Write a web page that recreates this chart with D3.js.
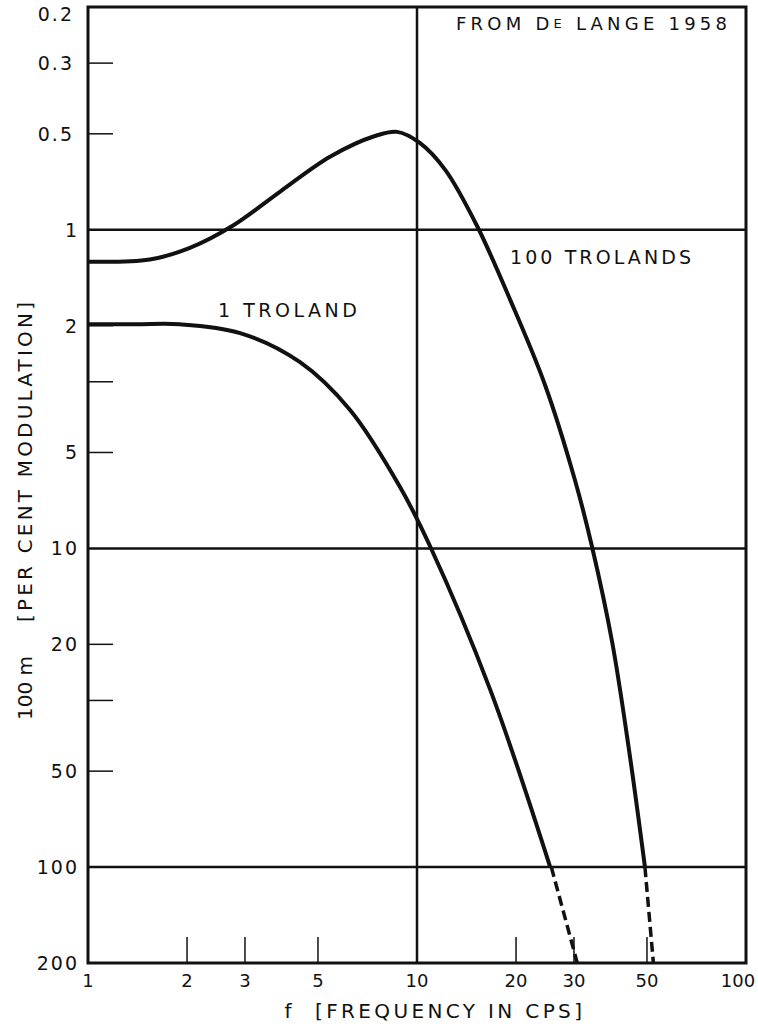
<!DOCTYPE html>
<html lang="en">
  <head>
    <meta charset="UTF-8" />
    <title>De Lange 1958</title>
    <style>
      body { margin: 0; background: #fff; }
      text { font-family: "DejaVu Sans", sans-serif; fill: #111; }
    </style>
  </head>
  <body>
    <svg id="container" width="758" height="1026"></svg>
  </body>
  <script src="https://cdn.jsdelivr.net/npm/d3@7"></script>
  <script>
    // values
    const freq100 = [1, 1.54, 2.04, 2.76, 3.83, 5.44, 7.45, 8.7, 10.2, 12.2, 15.2, 19.2, 24.5, 30.2, 34.0, 39.2, 44.1, 49.3];
    const mod100 = [1.26, 1.24, 1.14, 0.97, 0.76, 0.59, 0.508, 0.493, 0.534, 0.65, 0.97, 1.66, 3.07, 6.1, 9.83, 19.7, 42.9, 100];
    const freq1 = [1, 1.4, 1.9, 2.9, 4.4, 6.26, 8.88, 10.95, 16.7, 25.4];
    const mod1 = [1.98, 1.98, 1.98, 2.11, 2.6, 3.68, 6.42, 9.83, 27.8, 100];
    const dashFreq100 = [49.3, 52.3];
    const dashFreq1 = [25.6, 30.7];
    const dashMod = [100, 200];

    const yTickLabels = [0.2, 0.3, 0.5, 1, 2, 5, 10, 20, 50, 100, 200];
    const yMinorTicks = [0.3, 0.5, 2, 3, 5, 20, 30, 50];
    const xTickLabels = [1, 2, 3, 5, 10, 20, 30, 50, 100];
    const xMinorTicks = [2, 3, 5, 20, 30, 50];
    const xGrid = [10];
    const yGrid = [1, 10, 100];

    const svg = d3.select("#container");
    const x = d3.scaleLog().domain([1, 100]).range([88, 746]);
    const y = d3.scaleLog().domain([0.2, 200]).range([7, 963]);

    // frame
    svg.append("rect")
      .attr("x", x(1)).attr("y", y(0.2))
      .attr("width", x(100) - x(1)).attr("height", y(200) - y(0.2))
      .attr("fill", "none").attr("stroke", "#111").attr("stroke-width", 3);

    // grid lines
    svg.selectAll(".vgrid").data(xGrid).enter().append("line")
      .attr("x1", (d) => x(d)).attr("x2", (d) => x(d))
      .attr("y1", y(0.2)).attr("y2", y(200))
      .attr("stroke", "#111").attr("stroke-width", 2.5);
    svg.selectAll(".hgrid").data(yGrid).enter().append("line")
      .attr("x1", x(1)).attr("x2", x(100))
      .attr("y1", (d) => y(d)).attr("y2", (d) => y(d))
      .attr("stroke", "#111").attr("stroke-width", 2.5);

    // short ticks
    svg.selectAll(".ytick").data(yMinorTicks).enter().append("line")
      .attr("x1", x(1)).attr("x2", x(1) + 25)
      .attr("y1", (d) => y(d)).attr("y2", (d) => y(d))
      .attr("stroke", "#111").attr("stroke-width", 1.5);
    svg.selectAll(".xtick").data(xMinorTicks).enter().append("line")
      .attr("x1", (d) => x(d)).attr("x2", (d) => x(d))
      .attr("y1", y(200)).attr("y2", y(200) - 26)
      .attr("stroke", "#111").attr("stroke-width", 1.5);

    // tick labels
    svg.selectAll(".ylab").data(yTickLabels).enter().append("text")
      .attr("x", (d) => (d < 1 ? 74 : 79))
      .attr("y", (d) => (d === 0.2 ? y(d) + 7 : y(d)))
      .attr("text-anchor", "end")
      .attr("dominant-baseline", "central")
      .attr("font-size", 19)
      .attr("letter-spacing", 2)
      .text((d) => d);
    svg.selectAll(".xlab").data(xTickLabels).enter().append("text")
      .attr("x", (d) => (d === 100 ? x(d) - 8 : x(d)))
      .attr("y", 980)
      .attr("text-anchor", "middle")
      .attr("dominant-baseline", "central")
      .attr("font-size", 18)
      .text((d) => d);

    // curves
    const line = d3.line()
      .x((d) => x(d[0]))
      .y((d) => y(d[1]))
      .curve(d3.curveCatmullRom.alpha(0.5));

    svg.append("path")
      .datum(d3.zip(freq100, mod100))
      .attr("d", line)
      .attr("fill", "none").attr("stroke", "#111").attr("stroke-width", 4);
    svg.append("path")
      .datum(d3.zip(freq1, mod1))
      .attr("d", line)
      .attr("fill", "none").attr("stroke", "#111").attr("stroke-width", 4);

    [dashFreq100, dashFreq1].forEach((fs) => {
      svg.append("path")
        .datum(d3.zip(fs, dashMod))
        .attr("d", d3.line().x((d) => x(d[0])).y((d) => y(d[1])))
        .attr("fill", "none").attr("stroke", "#111")
        .attr("stroke-width", 3.5).attr("stroke-dasharray", "10,5");
    });

    // labels
    const note = svg.append("text")
      .attr("x", 456).attr("y", 23)
      .attr("dominant-baseline", "central")
      .attr("font-size", 18)
      .attr("textLength", 271).attr("lengthAdjust", "spacing");
    note.append("tspan").text("FROM  D");
    note.append("tspan").attr("font-size", 13).text("E");
    note.append("tspan").text(" LANGE 1958");

    svg.append("text")
      .attr("x", 510).attr("y", 257)
      .attr("dominant-baseline", "central")
      .attr("font-size", 19)
      .attr("textLength", 181).attr("lengthAdjust", "spacing")
      .text("100  TROLANDS");
    svg.append("text")
      .attr("x", 218).attr("y", 310)
      .attr("dominant-baseline", "central")
      .attr("font-size", 19)
      .attr("textLength", 139).attr("lengthAdjust", "spacing")
      .text("1  TROLAND");

    // axis titles
    svg.append("text")
      .attr("x", 288).attr("y", 1011)
      .attr("text-anchor", "middle")
      .attr("dominant-baseline", "central")
      .attr("font-size", 20)
      .text("f");
    svg.append("text")
      .attr("x", 315).attr("y", 1011)
      .attr("dominant-baseline", "central")
      .attr("font-size", 20)
      .attr("textLength", 267).attr("lengthAdjust", "spacing")
      .text("[FREQUENCY IN CPS]");

    svg.append("text")
      .attr("transform", "translate(25,688) rotate(-90)")
      .attr("text-anchor", "middle")
      .attr("dominant-baseline", "central")
      .attr("font-size", 20)
      .text("100 m");
    svg.append("text")
      .attr("transform", "translate(25,622) rotate(-90)")
      .attr("dominant-baseline", "central")
      .attr("font-size", 20)
      .attr("textLength", 320).attr("lengthAdjust", "spacing")
      .text("[PER CENT MODULATION]");
  </script>
</html>
